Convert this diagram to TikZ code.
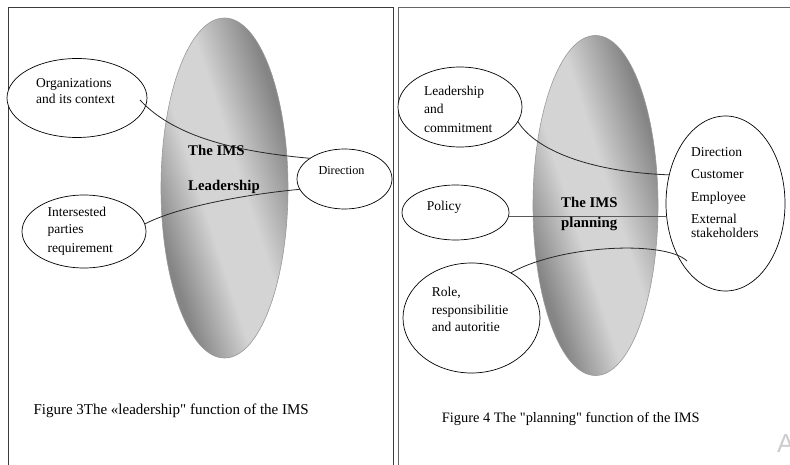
\documentclass[tikz,border=0pt]{standalone}
\usepackage{fontspec}
\setmainfont{Liberation Serif}[Ligatures=TeXOff]
\newfontfamily\wmfont{Liberation Sans}
\usetikzlibrary{shapes.geometric,calc}
\definecolor{imsdark}{HTML}{858585}
\definecolor{imslight}{HTML}{D4D4D4}
\definecolor{framecol}{HTML}{3A3A3A}
\pgfdeclareverticalshading{imsshade}{100bp}{color(0bp)=(imsdark); color(29bp)=(imsdark); color(43bp)=(imslight); color(55bp)=(imslight); color(71bp)=(imsdark); color(100bp)=(imsdark)}
\tikzset{
  bigell/.style={ellipse, shade, shading=imsshade, shading angle=-72, draw=gray!80, line width=0.6pt, inner sep=0pt, outer sep=0pt},
  smell/.style={ellipse, draw=black, line width=0.7pt, fill=white, inner sep=0pt, outer sep=0pt},
  lbl/.style={anchor=base west, inner sep=0pt, font=\fontsize{13.5}{16}\selectfont},
  bold/.style={anchor=base west, inner sep=0pt, font=\bfseries\fontsize{14.8}{18}\selectfont},
  captxt/.style={anchor=base west, inner sep=0pt},
  conn/.style={draw=black!85, line width=0.8pt},
  frame/.style={draw=framecol, line width=0.8pt}
}
\begin{document}
\begin{tikzpicture}[x=1pt,y=-1pt]
\useasboundingbox (0,0) rectangle (790,465);
\fill[white] (0,0) rectangle (790,465);
% frames
\draw[frame] (8,466) -- (8,7.5) -- (393,7.5) -- (393,466);
\draw[frame, draw=black!60] (398.5,466) -- (398.5,7.5) -- (791,7.5);

% ===== Left figure =====
\node[bigell, minimum width=127pt, minimum height=340pt] (imsL) at (224.5,188) {};
\node[smell, minimum width=140pt, minimum height=79pt] (org) at (77,98) {};
\node[smell, minimum width=124pt, minimum height=73pt] (intL) at (84,231.5) {};
\node[smell, minimum width=95pt, minimum height=60pt] (dirL) at (344.5,179) {};

\draw[conn] ([xshift=-7pt,yshift=-2pt]org.east) .. controls (175,138) and (240,152) .. (dirL.149);
\draw[conn] (intL.7) .. controls (175,208) and (240,195) .. (dirL.193);

\node[lbl] (org1) at (36,87.3) {Organizations};
\node[lbl] (org2) at (36,104) {and its context};
\node[lbl] (int1) at (47.5,216.3) {Intersested};
\node[lbl] (int2) at (47.5,234) {parties};
\node[lbl] (int3) at (47.5,252.3) {requirement};
\node[lbl, font=\fontsize{12.2}{14}\selectfont] (dirLt) at (318.3,174.3) {Direction};
\node[bold] (imsL1) at (188,155.3) {The IMS};
\node[bold] (imsL2) at (188,190.3) {Leadership};

\node[captxt, font=\fontsize{15}{18}\selectfont] (capL) at (33.3,414.5) {Figure 3The «leadership" function of the IMS};

% ===== Right figure =====
\node[bigell, minimum width=125pt, minimum height=340pt] (imsR) at (595.5,205.5) {};
\node[smell, minimum width=124pt, minimum height=80pt] (lead) at (460,107) {};
\node[smell, minimum width=107pt, minimum height=55pt] (policy) at (455.5,212.5) {};
\node[smell, minimum width=137pt, minimum height=110pt] (role) at (471.5,318) {};
\node[smell, minimum width=119pt, minimum height=175pt] (dirs) at (725.5,203.5) {};
\coordinate (roleEnd) at (687,261);

\draw[conn] (lead.-14) .. controls (535,150) and (590,172) .. (dirs.153);
\draw[conn, draw=black!65, line width=1.4pt] ([yshift=-4pt]policy.east) -- ([yshift=-4pt]policy.east -| dirs.west);
\draw[conn] (role.49) .. controls (560,245) and (665,240) .. (roleEnd);

\node[lbl] (lead1) at (424,95.7) {Leadership};
\node[lbl] (lead2) at (424,114) {and};
\node[lbl] (lead3) at (424,132.3) {commitment};
\node[lbl] (pol1) at (426.7,210.7) {Policy};
\node[lbl] (role1) at (431.7,296.3) {Role,};
\node[lbl] (role2) at (431.7,314) {responsibilitie};
\node[lbl] (role3) at (431.7,331.3) {and autoritie};
\node[lbl] (d1) at (691,156.7) {Direction};
\node[lbl] (d2) at (691,178.3) {Customer};
\node[lbl] (d3) at (691,201.7) {Employee};
\node[lbl] (d4) at (691,223.3) {External};
\node[lbl] (d5) at (691,237.3) {stakeholders};
\node[bold] (imsR1) at (561,207.3) {The IMS};
\node[bold] (imsR2) at (561,227.3) {planning};

\node[captxt, font=\fontsize{14.4}{17}\selectfont] (capR) at (441.7,422.5) {Figure 4 The "planning" function of the IMS};

\node[captxt, font=\wmfont\fontsize{26}{30}\selectfont, text=gray!40] (wm) at (777,452) {A};
\end{tikzpicture}
\end{document}
